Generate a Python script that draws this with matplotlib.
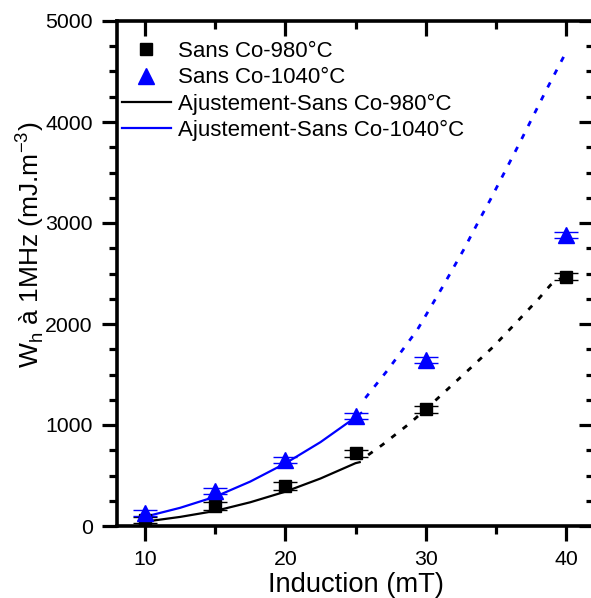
import matplotlib
matplotlib.use("Agg")
import matplotlib.pyplot as plt
from matplotlib.lines import Line2D
from matplotlib.ticker import MultipleLocator

plt.rcParams['font.family'] = ['Liberation Sans', 'DejaVu Sans']
plt.rcParams['mathtext.fontset'] = 'custom'
plt.rcParams['mathtext.rm'] = 'Liberation Sans'

# Data points
induction = [10, 15, 20, 25, 30, 40]
w980 = [55, 198, 396, 720, 1155, 2468]
w980_err = [30, 35, 35, 35, 35, 35]
w1040 = [125, 345, 655, 1085, 1640, 2880]
w1040_err = [30, 30, 30, 30, 30, 30]

# Fit curves (solid part)
fit980_x = [10, 12.5, 15, 17.5, 20, 22.5, 25, 25.3]
fit980_y = [43, 90, 149, 235, 340, 470, 622, 632]
fit1040_x = [10, 12.5, 15, 17.5, 20, 22.5, 25, 25.4]
fit1040_y = [92, 180, 290, 440, 620, 830, 1076, 1120]

# Extrapolated (dashed) part
ext980_x = [25.9, 26.9, 28.9, 30.5, 33.2, 34.8, 36.5, 38.1, 38.9, 39.6]
ext980_y = [703, 802, 1020, 1218, 1564, 1772, 2020, 2257, 2386, 2450]
ext1040_x = [25.7, 27.3, 29.4, 31.2, 32.7, 33.9, 34.6, 36.7, 38.6, 39.9]
ext1040_y = [1267, 1545, 1941, 2366, 2733, 3050, 3228, 3792, 4317, 4663]

labels = ["Sans Co-980°C", "Sans Co-1040°C",
          "Ajustement-Sans Co-980°C", "Ajustement-Sans Co-1040°C"]

W, H = 591, 598
fig = plt.figure(figsize=(W / 100, H / 100), dpi=100)
ax = fig.add_axes([117 / W, (H - 526) / H, (594 - 117) / W, (526 - 21) / H])

blue = '#0000ff'
ax.plot(fit980_x, fit980_y, color='black', lw=1.6, zorder=2)
ax.plot(fit1040_x, fit1040_y, color=blue, lw=1.6, zorder=2)
ax.plot(ext980_x, ext980_y, color='black', lw=2.0, dashes=(2.0, 3.2), zorder=2)
ax.plot(ext1040_x, ext1040_y, color=blue, lw=2.0, dashes=(2.0, 3.2), zorder=2)

ax.errorbar(induction, w980, yerr=w980_err, fmt='s', color='black', ms=9,
            capsize=8.5, elinewidth=1.0, capthick=1.0, zorder=3)
ax.errorbar(induction, w1040, yerr=w1040_err, fmt='^', color=blue, ms=11.5,
            capsize=8.5, elinewidth=1.0, capthick=1.0, zorder=3)

ax.set_xlim(8, 42)
ax.set_ylim(0, 5000)
ax.xaxis.set_major_locator(MultipleLocator(10))
ax.xaxis.set_minor_locator(MultipleLocator(5))
ax.yaxis.set_major_locator(MultipleLocator(1000))
ax.yaxis.set_minor_locator(MultipleLocator(250))

for s in ax.spines.values():
    s.set_linewidth(2.6)

ax.tick_params(axis='x', which='both', direction='out', top=True, bottom=True,
               labelsize=15.3, width=2.3, pad=7)
ax.tick_params(axis='y', which='both', direction='out', left=True, right=True,
               labelsize=15.3, width=2.3, pad=7)
ax.tick_params(which='major', length=10.5)
ax.tick_params(which='minor', length=5.5)
# top/right ticks inward
for t in ax.xaxis.get_major_ticks() + ax.xaxis.get_minor_ticks():
    t.tick2line.set_marker(3)  # TICKDOWN
for t in ax.yaxis.get_major_ticks() + ax.yaxis.get_minor_ticks():
    t.tick2line.set_marker(0)  # TICKLEFT

ax.set_xlabel("Induction (mT)", fontsize=19.7, labelpad=2)
fig.text(30 / W, 1 - 245 / H, r"W$_\mathregular{h}$ à 1MHz (mJ.m$^\mathregular{-3}$)",
         rotation=90, ha='center', va='center', fontsize=19)

handles = [
    Line2D([], [], ls='none', marker='s', color='black', ms=9),
    Line2D([], [], ls='none', marker='^', color=blue, ms=11.5),
    Line2D([], [], color='black', lw=1.6),
    Line2D([], [], color=blue, lw=1.6),
]
leg = ax.legend(handles, labels, loc='upper left', bbox_to_anchor=(122 / W, 1 - 41 / H),
                bbox_transform=fig.transFigure, frameon=False, fontsize=16,
                handlelength=2.2, handletextpad=0.3, labelspacing=0.24,
                borderpad=0, borderaxespad=0)

fig.savefig("out.png", dpi=100)
